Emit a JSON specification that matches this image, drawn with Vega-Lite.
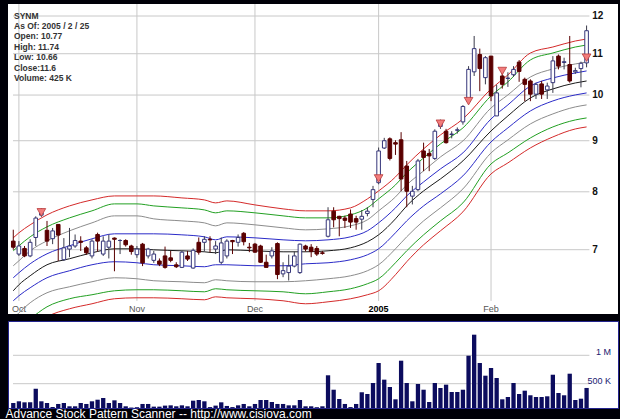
{
  "$schema": "https://vega.github.io/schema/vega-lite/v6.json",
  "background": "#000008",
  "padding": {"left": 5, "top": 3, "right": 5, "bottom": 1},
  "spacing": 5,
  "config": {
    "font": "Liberation Sans",
    "view": {"fill": "#ffffff", "stroke": null}
  },
  "title": {
    "text": "Advance Stock Pattern Scanner -- http://www.cisiova.com",
    "orient": "bottom", "anchor": "start", "color": "#ffffff", "fontSize": 12,
    "fontWeight": "normal", "font": "Liberation Sans", "offset": 0, "dx": -2
  },
  "datasets": {
    "months": [{"i": 1, "label": "Oct"}, {"i": 22, "label": "Nov"}, {"i": 43, "label": "Dec"}, {"i": 65, "label": "2005"}, {"i": 85, "label": "Feb"}],
    "levels": [{"lv": 7}, {"lv": 8}, {"lv": 9}, {"lv": 10}, {"lv": 11}, {"lv": 12}],
    "vlevels": [{"lv": 500000, "label": "500 K"}, {"lv": 1000000, "label": "1 M"}],
    "markers": [
      {"i": 5, "p": 7.63}, {"i": 65, "p": 8.25}, {"i": 76, "p": 9.36},
      {"i": 81, "p": 9.86}, {"i": 87, "p": 10.57}, {"i": 102, "p": 10.9}
    ],
    "bands": [
      {"i": 0, "R1": 7.194, "G1": 6.982, "Y1": 6.745, "B1": 6.561, "K": 6.367, "B2": 6.222, "Y2": 5.969, "G2": 5.779, "R2": 5.647},
      {"i": 1, "R1": 7.278, "G1": 7.063, "Y1": 6.823, "B1": 6.637, "K": 6.456, "B2": 6.294, "Y2": 6.052, "G2": 5.86, "R2": 5.726},
      {"i": 3, "R1": 7.413, "G1": 7.211, "Y1": 6.982, "B1": 6.776, "K": 6.591, "B2": 6.411, "Y2": 6.193, "G2": 5.969, "R2": 5.833},
      {"i": 6, "R1": 7.586, "G1": 7.379, "Y1": 7.145, "B1": 6.934, "K": 6.761, "B2": 6.561, "Y2": 6.338, "G2": 6.136, "R2": 5.996},
      {"i": 10, "R1": 7.744, "G1": 7.533, "Y1": 7.311, "B1": 7.063, "K": 6.855, "B2": 6.668, "Y2": 6.426, "G2": 6.251, "R2": 6.108},
      {"i": 14, "R1": 7.852, "G1": 7.656, "Y1": 7.447, "B1": 7.178, "K": 6.95, "B2": 6.761, "Y2": 6.501, "G2": 6.309, "R2": 6.179},
      {"i": 18, "R1": 7.924, "G1": 7.78, "Y1": 7.568, "B1": 7.261, "K": 7.014, "B2": 6.808, "Y2": 6.561, "G2": 6.367, "R2": 6.251},
      {"i": 22, "R1": 7.924, "G1": 7.78, "Y1": 7.568, "B1": 7.261, "K": 7.014, "B2": 6.792, "Y2": 6.546, "G2": 6.382, "R2": 6.265},
      {"i": 25, "R1": 7.924, "G1": 7.744, "Y1": 7.516, "B1": 7.261, "K": 6.998, "B2": 6.761, "Y2": 6.516, "G2": 6.382, "R2": 6.265},
      {"i": 30, "R1": 7.888, "G1": 7.709, "Y1": 7.481, "B1": 7.244, "K": 6.982, "B2": 6.745, "Y2": 6.501, "G2": 6.367, "R2": 6.251},
      {"i": 34, "R1": 7.852, "G1": 7.673, "Y1": 7.447, "B1": 7.211, "K": 6.966, "B2": 6.73, "Y2": 6.486, "G2": 6.352, "R2": 6.236},
      {"i": 36, "R1": 7.798, "G1": 7.621, "Y1": 7.396, "B1": 7.161, "K": 6.95, "B2": 6.761, "Y2": 6.531, "G2": 6.397, "R2": 6.279},
      {"i": 38, "R1": 7.834, "G1": 7.656, "Y1": 7.447, "B1": 7.211, "K": 6.998, "B2": 6.761, "Y2": 6.516, "G2": 6.382, "R2": 6.265},
      {"i": 43, "R1": 7.762, "G1": 7.621, "Y1": 7.413, "B1": 7.194, "K": 6.982, "B2": 6.745, "Y2": 6.501, "G2": 6.367, "R2": 6.251},
      {"i": 48, "R1": 7.691, "G1": 7.568, "Y1": 7.362, "B1": 7.161, "K": 6.966, "B2": 6.745, "Y2": 6.501, "G2": 6.352, "R2": 6.222},
      {"i": 52, "R1": 7.656, "G1": 7.533, "Y1": 7.328, "B1": 7.145, "K": 6.966, "B2": 6.776, "Y2": 6.516, "G2": 6.323, "R2": 6.179},
      {"i": 56, "R1": 7.656, "G1": 7.533, "Y1": 7.345, "B1": 7.161, "K": 6.982, "B2": 6.792, "Y2": 6.546, "G2": 6.352, "R2": 6.207},
      {"i": 60, "R1": 7.709, "G1": 7.586, "Y1": 7.396, "B1": 7.211, "K": 7.03, "B2": 6.839, "Y2": 6.591, "G2": 6.397, "R2": 6.251},
      {"i": 63, "R1": 7.87, "G1": 7.709, "Y1": 7.499, "B1": 7.311, "K": 7.128, "B2": 6.918, "Y2": 6.668, "G2": 6.471, "R2": 6.309},
      {"i": 65, "R1": 8.016, "G1": 7.87, "Y1": 7.656, "B1": 7.447, "K": 7.244, "B2": 7.014, "Y2": 6.761, "G2": 6.546, "R2": 6.367},
      {"i": 68, "R1": 8.279, "G1": 8.128, "Y1": 7.906, "B1": 7.709, "K": 7.516, "B2": 7.278, "Y2": 7.014, "G2": 6.792, "R2": 6.607},
      {"i": 70, "R1": 8.512, "G1": 8.356, "Y1": 8.128, "B1": 7.924, "K": 7.744, "B2": 7.481, "Y2": 7.211, "G2": 6.982, "R2": 6.808},
      {"i": 73, "R1": 8.832, "G1": 8.65, "Y1": 8.395, "B1": 8.184, "K": 8.016, "B2": 7.744, "Y2": 7.481, "G2": 7.244, "R2": 7.079},
      {"i": 76, "R1": 9.121, "G1": 8.934, "Y1": 8.67, "B1": 8.434, "K": 8.241, "B2": 7.961, "Y2": 7.709, "G2": 7.481, "R2": 7.311},
      {"i": 80, "R1": 9.464, "G1": 9.27, "Y1": 8.996, "B1": 8.751, "K": 8.591, "B2": 8.299, "Y2": 8.053, "G2": 7.798, "R2": 7.638},
      {"i": 85, "R1": 10.142, "G1": 9.98, "Y1": 9.707, "B1": 9.464, "K": 9.206, "B2": 8.975, "Y2": 8.751, "G2": 8.531, "R2": 8.337},
      {"i": 88, "R1": 10.475, "G1": 10.307, "Y1": 10.003, "B1": 9.775, "K": 9.53, "B2": 9.27, "Y2": 9.017, "G2": 8.751, "R2": 8.551},
      {"i": 92, "R1": 11.019, "G1": 10.843, "Y1": 10.426, "B1": 10.212, "K": 9.934, "B2": 9.64, "Y2": 9.356, "G2": 9.058, "R2": 8.852},
      {"i": 96, "R1": 11.172, "G1": 11.019, "Y1": 10.62, "B1": 10.402, "K": 10.142, "B2": 9.865, "Y2": 9.574, "G2": 9.291, "R2": 9.079},
      {"i": 100, "R1": 11.328, "G1": 11.172, "Y1": 10.744, "B1": 10.523, "K": 10.283, "B2": 10.003, "Y2": 9.73, "G2": 9.442, "R2": 9.248},
      {"i": 102, "R1": 11.38, "G1": 11.224, "Y1": 10.793, "B1": 10.572, "K": 10.33, "B2": 10.049, "Y2": 9.775, "G2": 9.486, "R2": 9.291}
    ],
    "candles": [
      {"i":0,"o":7.14,"h":7.33,"l":7.0,"c":7.04,"v":160000},
      {"i":1,"o":6.93,"h":7.14,"l":6.9,"c":7.06,"v":190000},
      {"i":2,"o":7.02,"h":7.06,"l":6.88,"c":6.9,"v":172000},
      {"i":3,"o":6.9,"h":7.17,"l":6.88,"c":7.12,"v":172000},
      {"i":4,"o":7.2,"h":7.56,"l":7.06,"c":7.53,"v":412000},
      {"i":5,"o":7.58,"h":7.7,"l":7.55,"c":7.62,"v":190000},
      {"i":6,"o":7.32,"h":7.48,"l":7.06,"c":7.14,"v":160000},
      {"i":7,"o":7.18,"h":7.36,"l":7.09,"c":7.31,"v":90000},
      {"i":8,"o":7.42,"h":7.42,"l":6.82,"c":7.24,"v":143000},
      {"i":9,"o":6.84,"h":7.19,"l":6.82,"c":7.03,"v":160000},
      {"i":10,"o":7.01,"h":7.36,"l":6.88,"c":7.06,"v":102000},
      {"i":11,"o":7.06,"h":7.25,"l":7.03,"c":7.15,"v":102000},
      {"i":12,"o":7.14,"h":7.22,"l":6.98,"c":7.12,"v":160000},
      {"i":13,"o":7.03,"h":7.06,"l":6.92,"c":6.95,"v":143000},
      {"i":14,"o":6.9,"h":7.17,"l":6.86,"c":7.14,"v":190000},
      {"i":15,"o":7.25,"h":7.28,"l":6.97,"c":7.14,"v":218000},
      {"i":16,"o":6.93,"h":7.22,"l":6.9,"c":7.14,"v":248000},
      {"i":17,"o":7.04,"h":7.25,"l":6.86,"c":7.14,"v":160000},
      {"i":18,"o":7.19,"h":7.2,"l":6.66,"c":7.17,"v":207000},
      {"i":19,"o":7.15,"h":7.17,"l":6.93,"c":7.15,"v":160000},
      {"i":20,"o":7.15,"h":7.17,"l":7.05,"c":7.08,"v":102000},
      {"i":21,"o":7.06,"h":7.08,"l":6.92,"c":6.97,"v":80000},
      {"i":22,"o":6.92,"h":7.06,"l":6.87,"c":7.01,"v":86000},
      {"i":23,"o":7.09,"h":7.11,"l":6.74,"c":6.79,"v":143000},
      {"i":24,"o":6.9,"h":7.03,"l":6.86,"c":7.01,"v":143000},
      {"i":25,"o":6.83,"h":6.98,"l":6.79,"c":6.93,"v":96000},
      {"i":26,"o":6.82,"h":6.86,"l":6.74,"c":6.77,"v":96000},
      {"i":27,"o":6.9,"h":7.05,"l":6.7,"c":6.72,"v":114000},
      {"i":28,"o":6.87,"h":6.98,"l":6.8,"c":6.83,"v":119000},
      {"i":29,"o":6.76,"h":6.8,"l":6.71,"c":6.73,"v":102000},
      {"i":30,"o":6.72,"h":6.98,"l":6.71,"c":6.96,"v":119000},
      {"i":31,"o":6.9,"h":6.98,"l":6.82,"c":6.85,"v":102000},
      {"i":32,"o":6.71,"h":7.02,"l":6.7,"c":6.99,"v":201000},
      {"i":33,"o":7.12,"h":7.2,"l":6.92,"c":6.96,"v":213000},
      {"i":34,"o":7.12,"h":7.22,"l":6.97,"c":7.17,"v":190000},
      {"i":35,"o":7.17,"h":7.22,"l":6.96,"c":7.16,"v":88000},
      {"i":36,"o":7.01,"h":7.14,"l":6.93,"c":7.06,"v":114000},
      {"i":37,"o":6.8,"h":7.2,"l":6.77,"c":7.11,"v":172000},
      {"i":38,"o":6.9,"h":7.17,"l":6.86,"c":7.14,"v":108000},
      {"i":39,"o":7.15,"h":7.16,"l":6.93,"c":7.13,"v":88000},
      {"i":40,"o":7.12,"h":7.25,"l":7.05,"c":7.2,"v":119000},
      {"i":41,"o":7.27,"h":7.29,"l":7.07,"c":7.13,"v":143000},
      {"i":42,"o":7.04,"h":7.11,"l":6.96,"c":7.03,"v":102000},
      {"i":43,"o":7.09,"h":7.11,"l":6.95,"c":6.96,"v":143000},
      {"i":44,"o":7.06,"h":7.08,"l":6.79,"c":6.8,"v":213000},
      {"i":45,"o":6.8,"h":6.92,"l":6.72,"c":6.72,"v":213000},
      {"i":46,"o":6.9,"h":7.04,"l":6.86,"c":6.98,"v":178000},
      {"i":47,"o":7.1,"h":7.12,"l":6.54,"c":6.61,"v":143000},
      {"i":48,"o":6.62,"h":6.8,"l":6.57,"c":6.67,"v":143000},
      {"i":49,"o":6.64,"h":6.92,"l":6.52,"c":6.74,"v":119000},
      {"i":50,"o":6.74,"h":6.97,"l":6.72,"c":6.9,"v":119000},
      {"i":51,"o":6.64,"h":7.1,"l":6.62,"c":7.09,"v":213000},
      {"i":52,"o":7.06,"h":7.08,"l":6.97,"c":7.01,"v":102000},
      {"i":53,"o":7.04,"h":7.09,"l":6.88,"c":6.97,"v":102000},
      {"i":54,"o":7.02,"h":7.06,"l":6.9,"c":6.93,"v":86000},
      {"i":55,"o":6.95,"h":6.98,"l":6.92,"c":6.94,"v":102000},
      {"i":56,"o":7.22,"h":7.72,"l":7.2,"c":7.5,"v":648000},
      {"i":57,"o":7.65,"h":7.72,"l":7.37,"c":7.5,"v":394000},
      {"i":58,"o":7.56,"h":7.57,"l":7.22,"c":7.52,"v":231000},
      {"i":59,"o":7.53,"h":7.57,"l":7.36,"c":7.49,"v":143000},
      {"i":60,"o":7.6,"h":7.68,"l":7.36,"c":7.46,"v":88000},
      {"i":61,"o":7.52,"h":7.57,"l":7.33,"c":7.46,"v":143000},
      {"i":62,"o":7.51,"h":7.67,"l":7.33,"c":7.56,"v":349000},
      {"i":63,"o":7.61,"h":7.72,"l":7.56,"c":7.65,"v":319000},
      {"i":64,"o":7.86,"h":8.11,"l":7.72,"c":8.04,"v":512000},
      {"i":65,"o":8.17,"h":8.86,"l":8.14,"c":8.79,"v":864000},
      {"i":66,"o":8.85,"h":9.06,"l":8.83,"c":9.0,"v":571000},
      {"i":67,"o":9.04,"h":9.07,"l":8.6,"c":8.64,"v":442000},
      {"i":68,"o":8.96,"h":9.01,"l":8.71,"c":8.93,"v":225000},
      {"i":69,"o":9.02,"h":9.18,"l":8.01,"c":8.24,"v":905000},
      {"i":70,"o":8.49,"h":8.59,"l":7.72,"c":8.01,"v":512000},
      {"i":71,"o":7.92,"h":8.11,"l":7.77,"c":8.01,"v":190000},
      {"i":72,"o":8.04,"h":8.63,"l":8.01,"c":8.59,"v":495000},
      {"i":73,"o":8.79,"h":8.96,"l":8.39,"c":8.66,"v":394000},
      {"i":74,"o":8.74,"h":8.83,"l":8.39,"c":8.69,"v":178000},
      {"i":75,"o":8.64,"h":9.24,"l":8.61,"c":9.2,"v":512000},
      {"i":76,"o":9.3,"h":9.45,"l":9.25,"c":9.38,"v":424000},
      {"i":77,"o":9.2,"h":9.25,"l":8.94,"c":8.96,"v":483000},
      {"i":78,"o":9.13,"h":9.2,"l":9.05,"c":9.14,"v":354000},
      {"i":79,"o":9.22,"h":9.28,"l":9.15,"c":9.23,"v":354000},
      {"i":80,"o":9.4,"h":9.77,"l":9.34,"c":9.74,"v":394000},
      {"i":81,"o":9.86,"h":10.69,"l":9.82,"c":10.61,"v":993000},
      {"i":82,"o":10.55,"h":11.46,"l":10.45,"c":11.13,"v":1363000},
      {"i":83,"o":10.98,"h":11.13,"l":10.09,"c":10.63,"v":864000},
      {"i":84,"o":10.41,"h":10.94,"l":10.25,"c":10.9,"v":641000},
      {"i":85,"o":10.94,"h":10.94,"l":9.86,"c":9.98,"v":776000},
      {"i":86,"o":9.53,"h":10.24,"l":9.53,"c":10.05,"v":600000},
      {"i":87,"o":10.45,"h":10.6,"l":10.15,"c":10.25,"v":225000},
      {"i":88,"o":10.39,"h":10.54,"l":10.19,"c":10.4,"v":266000},
      {"i":89,"o":10.48,"h":10.69,"l":10.43,"c":10.61,"v":512000},
      {"i":90,"o":10.79,"h":10.84,"l":10.31,"c":10.56,"v":319000},
      {"i":91,"o":10.37,"h":10.41,"l":9.86,"c":10.25,"v":377000},
      {"i":92,"o":10.33,"h":10.37,"l":9.86,"c":10.02,"v":296000},
      {"i":93,"o":10.02,"h":10.29,"l":9.91,"c":10.25,"v":266000},
      {"i":94,"o":10.26,"h":10.33,"l":9.91,"c":10.02,"v":266000},
      {"i":95,"o":10.12,"h":10.29,"l":9.91,"c":10.21,"v":278000},
      {"i":96,"o":10.29,"h":10.94,"l":10.05,"c":10.82,"v":658000},
      {"i":97,"o":10.94,"h":10.98,"l":10.61,"c":10.69,"v":336000},
      {"i":98,"o":10.78,"h":10.9,"l":10.61,"c":10.8,"v":296000},
      {"i":99,"o":10.73,"h":11.46,"l":10.29,"c":10.33,"v":676000},
      {"i":100,"o":10.55,"h":10.65,"l":10.5,"c":10.58,"v":213000},
      {"i":101,"o":10.63,"h":10.8,"l":10.18,"c":10.76,"v":236000},
      {"i":102,"o":10.77,"h":11.74,"l":10.66,"c":11.6,"v":425000}
    ]
  },
  "vconcat": [
    {
      "width": 610,
      "height": 310,
      "view": {"fill": "#ffffff", "stroke": null},
      "title": {
        "text": ["SYNM", "As Of: 2005 / 2 / 25", "Open: 10.77", "High: 11.74", "Low: 10.66", "Close:11.6", "Volume: 425 K"],
        "orient": "top", "anchor": "start", "frame": "group", "offset": -79,
        "fontSize": 8.5, "fontWeight": "bold", "lineHeight": 10.4, "color": "#333333",
        "dx": 6, "font": "Liberation Sans"
      },
      "layer": [
        {
          "data": {"name": "months"},
          "mark": {"type": "rule", "color": "#c8c8c8", "strokeWidth": 1},
          "encoding": {
            "x": {"field": "i", "type": "quantitative", "scale": {"domain": [-0.05, 106.7], "nice": false, "zero": false}, "axis": null},
            "y": {"datum": 12.337, "type": "quantitative", "scale": {"type": "log", "domain": [6.035, 12.337], "nice": false, "zero": false}, "axis": null},
            "y2": {"datum": 6.22}
          }
        },
        {
          "data": {"name": "levels"},
          "mark": {"type": "rule", "color": "#c8c8c8", "strokeWidth": 1},
          "encoding": {
            "y": {"field": "lv", "type": "quantitative", "scale": {"type": "log", "domain": [6.035, 12.337], "nice": false, "zero": false}, "axis": null},
            "x": {"datum": -0.05, "type": "quantitative", "scale": {"domain": [-0.05, 106.7], "nice": false, "zero": false}, "axis": null},
            "x2": {"datum": 102.5}
          }
        },
        {
          "data": {"name": "months"},
          "transform": [{"filter": "datum.label != '2005'"}],
          "mark": {"type": "text", "baseline": "top", "align": "center", "fontSize": 9, "color": "#555555", "font": "Liberation Sans"},
          "encoding": {
            "x": {"field": "i", "type": "quantitative", "scale": {"domain": [-0.05, 106.7], "nice": false, "zero": false}, "axis": null},
            "y": {"datum": 6.16, "type": "quantitative", "scale": {"type": "log", "domain": [6.035, 12.337], "nice": false, "zero": false}, "axis": null},
            "text": {"field": "label"}
          }
        },
        {
          "data": {"name": "months"},
          "transform": [{"filter": "datum.label == '2005'"}],
          "mark": {"type": "text", "baseline": "top", "align": "center", "fontSize": 9, "fontWeight": "bold", "color": "#000000", "font": "Liberation Sans"},
          "encoding": {
            "x": {"field": "i", "type": "quantitative", "scale": {"domain": [-0.05, 106.7], "nice": false, "zero": false}, "axis": null},
            "y": {"datum": 6.16, "type": "quantitative", "scale": {"type": "log", "domain": [6.035, 12.337], "nice": false, "zero": false}, "axis": null},
            "text": {"field": "label"}
          }
        },
        {
          "data": {"name": "levels"},
          "mark": {"type": "text", "baseline": "middle", "align": "left", "fontSize": 10, "fontWeight": "bold", "color": "#111111", "font": "Liberation Sans"},
          "encoding": {
            "y": {"field": "lv", "type": "quantitative", "scale": {"type": "log", "domain": [6.035, 12.337], "nice": false, "zero": false}, "axis": null},
            "x": {"datum": 103.0, "type": "quantitative", "scale": {"domain": [-0.05, 106.7], "nice": false, "zero": false}, "axis": null},
            "text": {"field": "lv", "format": "d"}
          }
        },
        {
          "data": {"name": "bands"},
          "transform": [{"fold": ["R1", "G1", "Y1", "B1", "K", "B2", "Y2", "G2", "R2"], "as": ["band", "p"]}],
          "mark": {"type": "line", "interpolate": "monotone", "strokeWidth": 1, "clip": true},
          "encoding": {
            "x": {"field": "i", "type": "quantitative", "scale": {"domain": [-0.05, 106.7], "nice": false, "zero": false}, "axis": null},
            "y": {"field": "p", "type": "quantitative", "scale": {"type": "log", "domain": [6.035, 12.337], "nice": false, "zero": false}, "axis": null},
            "color": {
              "field": "band", "type": "nominal", "legend": null,
              "scale": {
                "domain": ["R1", "G1", "Y1", "B1", "K", "B2", "Y2", "G2", "R2"],
                "range": ["#d42a2a", "#22a022", "#8c8c8c", "#2b2bc8", "#1a1a1a", "#2b2bc8", "#8c8c8c", "#22a022", "#d42a2a"]
              }
            }
          }
        },
        {
          "data": {"name": "candles"},
          "mark": {"type": "rule", "strokeWidth": 1},
          "encoding": {
            "x": {"field": "i", "type": "quantitative", "scale": {"domain": [-0.05, 106.7], "nice": false, "zero": false}, "axis": null},
            "y": {"field": "l", "type": "quantitative", "scale": {"type": "log", "domain": [6.035, 12.337], "nice": false, "zero": false}, "axis": null},
            "y2": {"field": "h"},
            "color": {"condition": {"test": "datum.c >= datum.o", "value": "#3a3a4a"}, "value": "#5a0000"}
          }
        },
        {
          "data": {"name": "candles"},
          "mark": {"type": "bar", "width": 3.6, "strokeWidth": 1},
          "encoding": {
            "x": {"field": "i", "type": "quantitative", "scale": {"domain": [-0.05, 106.7], "nice": false, "zero": false}, "axis": null},
            "y": {"field": "o", "type": "quantitative", "scale": {"type": "log", "domain": [6.035, 12.337], "nice": false, "zero": false}, "axis": null},
            "y2": {"field": "c"},
            "fill": {"condition": {"test": "datum.c >= datum.o", "value": "#ffffff"}, "value": "#5a0000"},
            "stroke": {"condition": {"test": "datum.c >= datum.o", "value": "#35357a"}, "value": "#5a0000"}
          }
        },
        {
          "data": {"name": "markers"},
          "mark": {"type": "point", "shape": "triangle-down", "size": 75, "filled": true, "fill": "#f27c7c", "stroke": "#b83a3a", "strokeWidth": 0.8, "opacity": 1},
          "encoding": {
            "x": {"field": "i", "type": "quantitative", "scale": {"domain": [-0.05, 106.7], "nice": false, "zero": false}, "axis": null},
            "y": {"field": "p", "type": "quantitative", "scale": {"type": "log", "domain": [6.035, 12.337], "nice": false, "zero": false}, "axis": null}
          }
        }
      ]
    },
    {
      "width": 610,
      "height": 87,
      "view": {"fill": "#ffffff", "stroke": "#24248e", "strokeWidth": 1},
      "layer": [
        {
          "data": {"name": "vlevels"},
          "mark": {"type": "rule", "color": "#c8c8c8", "strokeWidth": 1},
          "encoding": {
            "y": {"field": "lv", "type": "quantitative", "scale": {"domain": [72000, 1604000], "nice": false, "zero": false}, "axis": null},
            "x": {"datum": -0.05, "type": "quantitative", "scale": {"domain": [-0.05, 106.7], "nice": false, "zero": false}, "axis": null},
            "x2": {"datum": 102.5}
          }
        },
        {
          "data": {"name": "vlevels"},
          "mark": {"type": "text", "baseline": "alphabetic", "align": "right", "fontSize": 9, "color": "#202070", "font": "Liberation Sans"},
          "encoding": {
            "y": {"field": "lv", "type": "quantitative", "scale": {"domain": [72000, 1604000], "nice": false, "zero": false}, "axis": null},
            "x": {"datum": 106.35, "type": "quantitative", "scale": {"domain": [-0.05, 106.7], "nice": false, "zero": false}, "axis": null},
            "text": {"field": "label"}
          }
        },
        {
          "data": {"name": "candles"},
          "mark": {"type": "bar", "width": 4.3, "color": "#0c0c5e", "clip": true},
          "encoding": {
            "x": {
              "field": "i", "type": "quantitative",
              "scale": {"domain": [-0.05, 106.7], "nice": false, "zero": false},
              "axis": {"values": [1, 22, 43, 65, 85], "grid": true, "gridColor": "#c8c8c8", "labels": false, "ticks": false, "domain": false, "title": null}
            },
            "y": {
              "field": "v", "type": "quantitative",
              "scale": {"domain": [72000, 1604000], "nice": false, "zero": false},
              "axis": null
            }
          }
        }
      ]
    }
  ]
}
